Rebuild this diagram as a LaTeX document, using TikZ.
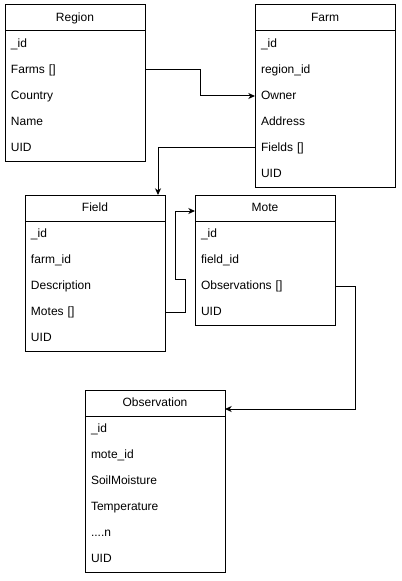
\documentclass[tikz,border=0pt]{standalone}
\usepackage{fontspec}
\setmainfont{Liberation Sans}
\usetikzlibrary{positioning,arrows.meta}

\begin{document}
\begin{tikzpicture}[%
    x=0.75pt, y=-0.75pt,
    >={Stealth[length=5pt,width=4.5pt,inset=1.5pt]},
    node distance=0pt,
    line width=0.75pt,
    font=\fontsize{9}{11}\selectfont,
    head/.style={draw, minimum width=105pt, minimum height=19.5pt, inner sep=0pt, outer sep=0pt,
      text height=6.6pt, text depth=2pt, anchor=north west},
    row/.style={minimum height=19.5pt, text width=96pt, inner xsep=4.5pt, inner ysep=0pt, outer sep=0pt,
      text height=6.6pt, text depth=2pt, align=left}
  ]
    \useasboundingbox (0,0) rectangle (401,581);

    % Region
    \node[head] (region) at (5,5) {Region};
    \node[row] (region-id) [below=of region] {\_id};
    \node[row] (region-farms) [below=of region-id] {Farms []};
    \node[row] (region-country) [below=of region-farms] {Country};
    \node[row] (region-name) [below=of region-country] {Name};
    \node[row] (region-uid) [below=of region-name] {UID};
    \draw (region.south west) rectangle (region-uid.south east);

    % Farm
    \node[head] (farm) at (255,5) {Farm};
    \node[row] (farm-id) [below=of farm] {\_id};
    \node[row] (farm-region) [below=of farm-id] {region\_id};
    \node[row] (farm-owner) [below=of farm-region] {Owner};
    \node[row] (farm-address) [below=of farm-owner] {Address};
    \node[row] (farm-fields) [below=of farm-address] {Fields []};
    \node[row] (farm-uid) [below=of farm-fields] {UID};
    \draw (farm.south west) rectangle (farm-uid.south east);

    % Field
    \node[head] (field) at (25,195) {Field};
    \node[row] (field-id) [below=of field] {\_id};
    \node[row] (field-farm) [below=of field-id] {farm\_id};
    \node[row] (field-desc) [below=of field-farm] {Description};
    \node[row] (field-motes) [below=of field-desc] {Motes []};
    \node[row] (field-uid) [below=of field-motes] {UID};
    \draw (field.south west) rectangle (field-uid.south east);

    % Mote
    \node[head] (mote) at (195,195) {Mote};
    \node[row] (mote-id) [below=of mote] {\_id};
    \node[row] (mote-field) [below=of mote-id] {field\_id};
    \node[row] (mote-obs) [below=of mote-field] {Observations []};
    \node[row] (mote-uid) [below=of mote-obs] {UID};
    \draw (mote.south west) rectangle (mote-uid.south east);

    % Observation
    \node[head] (obs) at (85,390) {Observation};
    \node[row] (obs-id) [below=of obs] {\_id};
    \node[row] (obs-mote) [below=of obs-id] {mote\_id};
    \node[row] (obs-soil) [below=of obs-mote] {SoilMoisture};
    \node[row] (obs-temp) [below=of obs-soil] {Temperature};
    \node[row] (obs-more) [below=of obs-temp] {....n};
    \node[row] (obs-uid) [below=of obs-more] {UID};
    \draw (obs.south west) rectangle (obs-uid.south east);

    % links
    \draw[->] (region-farms.east) -- ++(55,0) |- (farm-owner.west);
    \draw[->] (farm-fields.west) -| ([xshift=-5.25pt]field.north east);
    \draw[->] (field-motes.east) -- ++(20,0) -- ++(0,-33) -- ++(-10,0)
              |- ([yshift=-2.25pt]mote.west);
    \draw[->] (mote-obs.east) -- ++(20,0) |- ([yshift=-4.5pt]obs.east);
\end{tikzpicture}
\end{document}
